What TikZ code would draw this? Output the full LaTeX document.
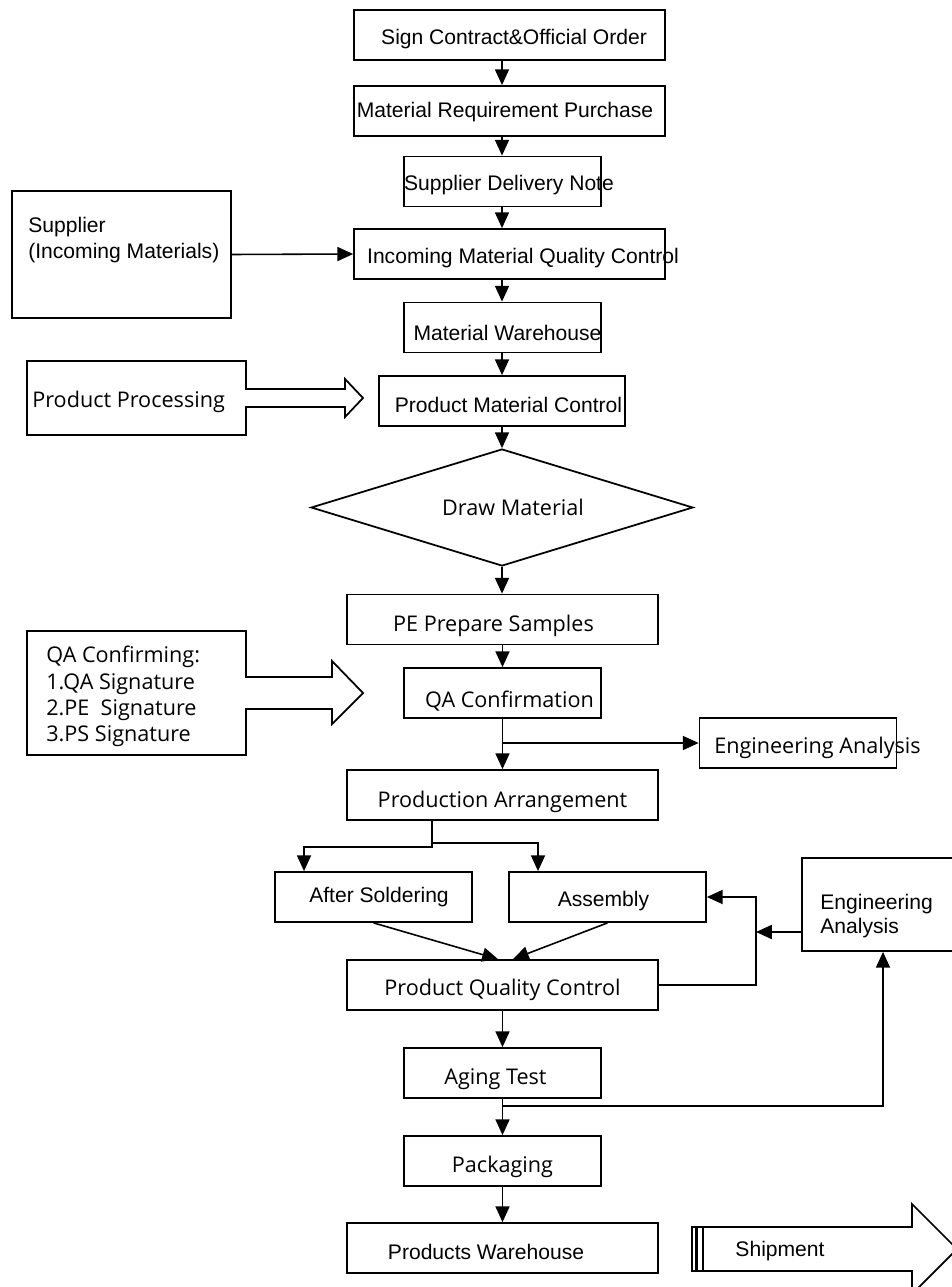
\documentclass[tikz,border=0pt]{standalone}
\usepackage{fontspec}
\setmainfont{Liberation Sans}
\newfontfamily\yahei{Open Sans}
\usetikzlibrary{arrows.meta,shapes.geometric}

% text that does not widen its box: [sideways shift][drop]{text}
\NewDocumentCommand\tx{O{0pt} O{-0.08cm} m}{%
    \makebox[0pt]{\hspace*{#1}\raisebox{#2}[\height][\depth]{#3}\hspace*{-#1}}}

\tikzset{
    box/.style={draw, line width=1pt, minimum height=1cm, inner sep=0pt,
        font=\fontsize{12}{14}\selectfont},
    wbox/.style={box, minimum width=6.22cm},
    nbox/.style={box, minimum width=3.94cm},
    ytext/.style={font=\yahei\fontsize{12.3}{15}\selectfont},
    link/.style={line width=0.9pt, -{Triangle[length=9pt,width=8pt]}},
    outline/.style={line width=1pt},
}

\begin{document}
\begin{tikzpicture}[x=0.02cm, y=-0.02cm]

        \useasboundingbox (0,0) rectangle (952,1287);
        \coordinate (spine) at (502,0);

        \node[wbox] (sign) at (509.5,35) {\tx[0.09cm]{Sign Contract\&Official Order}};
        \node[wbox] (mrp) at (509.5,111) {\tx[-0.09cm][-0.02cm]{Material Requirement Purchase}};
        \node[nbox] (sdn) at (502.5,181.5) {\tx[0.13cm]{Supplier Delivery Note}};
        \node[wbox] (imqc) at (509.5,254) {\tx[0.27cm]{Incoming Material Quality Control}};
        \node[nbox] (mw) at (502.5,327.5) {\tx[0.10cm][-0.1cm]{Material Warehouse}};
        \node[box, minimum width=4.92cm] (pmc) at (502,401) {\tx[0.13cm]{Product Material Control}};

        \node[draw, diamond, line width=1pt, minimum width=7.64cm, minimum height=2.34cm,
            inner sep=0pt, ytext] (dm) at (502,507.5) {\tx[0.22cm][0pt]{Draw Material}};

        \node[wbox, ytext] (pe) at (502.5,619.5) {\tx[-0.18cm][-0.12cm]{PE Prepare Samples}};
        \node[nbox, ytext] (qac) at (502.5,693) {\tx[0.14cm][-0.17cm]{QA Confirmation}};
        \node[nbox, ytext] (eam) at (798,743) {\tx[0.39cm][-0.1cm]{Engineering Analysis}};
        \node[wbox, ytext] (pa) at (502.5,795) {\tx[0pt][-0.13cm]{Production Arrangement}};
        \node[nbox] (as) at (373.5,897) {\tx[0.11cm][0pt]{After Soldering}};
        \node[nbox] (asm) at (607.5,897) {\tx[-0.08cm]{Assembly}};
        \node[wbox, ytext] (pqc) at (502.5,985) {\tx[0pt][-0.1cm]{Product Quality Control}};
        \node[nbox, ytext] (age) at (502.5,1073) {\tx[-0.14cm][-0.12cm]{Aging Test}};
        \node[nbox, ytext] (pack) at (502.5,1161) {\tx[0pt][-0.12cm]{Packaging}};
        \node[wbox] (pw) at (502.5,1248) {\tx[-0.33cm]{Products Warehouse}};

        % side boxes
        \node[box, minimum width=4.38cm, minimum height=2.54cm] (sup) at (121.5,254.5) {};
        \node[anchor=north west, align=left, inner sep=0pt, font=\fontsize{12}{14.7}\selectfont]
            (suptxt) at (28,217) {Supplier\\(Incoming Materials)};

        \node[box, minimum width=3.24cm, minimum height=1.86cm] (ear) at (883,904.5) {};
        \node[anchor=north west, align=left, inner sep=0pt, font=\fontsize{12}{13.6}\selectfont]
            (eartxt) at (820,894) {Engineering\\Analysis};

        \draw[outline] (27,361) -- (246,361) -- (246,389) -- (345,389) -- (345,379)
            -- (363,398) -- (345,417) -- (345,407) -- (246,407) -- (246,435)
            -- (27,435) -- cycle;
        \node[anchor=west, inner sep=0pt, ytext] (proc) at (32,402) {Product Processing};

        \draw[outline] (27,631) -- (246,631) -- (246,677) -- (332,677) -- (332,661)
            -- (363,693) -- (332,724) -- (332,709) -- (246,709) -- (246,755)
            -- (27,755) -- cycle;
        \node[anchor=north west, align=left, inner sep=0pt, font=\yahei\fontsize{12.3}{14.9}\selectfont]
            (qacf) at (46,646) {QA Confirming:\\1.QA Signature\\2.PE~\ Signature\\3.PS Signature};

        \draw[outline] (692,1227) rectangle (695.5,1271);
        \draw[outline] (697,1227) rectangle (703,1271);
        \draw[outline] (703,1227) -- (912,1227) -- (912,1204) -- (957,1249)
            -- (912,1294) -- (912,1271) -- (703,1271) -- cycle;
        \node[font=\fontsize{12}{14}\selectfont] (ship) at (780,1251) {Shipment};

        % #######################################

        \draw[link] (sign.south -| spine) -- (mrp.north -| spine);
        \draw[link] (mrp.south -| spine) -- (sdn.north -| spine);
        \draw[link] (sdn.south -| spine) -- (imqc.north -| spine);
        \draw[link] (sup.east) -- (imqc.west);
        \draw[link] (imqc.south -| spine) -- (mw.north -| spine);
        \draw[link] (mw.south -| spine) -- (pmc.north -| spine);
        \draw[link] (pmc.south) -- (dm.north);
        \draw[link] (dm.south) -- (pe.north -| spine);
        \draw[link] (pe.south) -- (qac.north);
        \draw[link] (qac.south) -- (pa.north);
        \draw[link] (qac.south |- eam.west) -- (eam.west);

        \coordinate (fork) at (432,847);
        \draw[link] (pa.south -| fork) -- (fork) -| ([xshift=-1.39cm]as.north);
        \draw[link] ([yshift=0.08cm]fork) -| ([xshift=-1.39cm]asm.north);

        \draw[link] (as.south) -- ([xshift=-0.09cm]pqc.north);
        \draw[link] (asm.south) -- ([xshift=0.21cm]pqc.north);

        \coordinate (loop) at (756,932);
        \draw[link] (pqc.east) -- (pqc.east -| loop) -- (asm.east -| loop) -- (asm.east);
        \draw[link] (ear.west |- loop) -- (loop);

        \draw[link] (pqc.south) -- (age.north);
        \coordinate (tap) at (502.5,1106);
        \draw[link] (age.south) -- (pack.north);
        \draw[link] (tap) -| (ear.south);
        \draw[link] (pack.south) -- (pw.north);

\end{tikzpicture}
\end{document}
